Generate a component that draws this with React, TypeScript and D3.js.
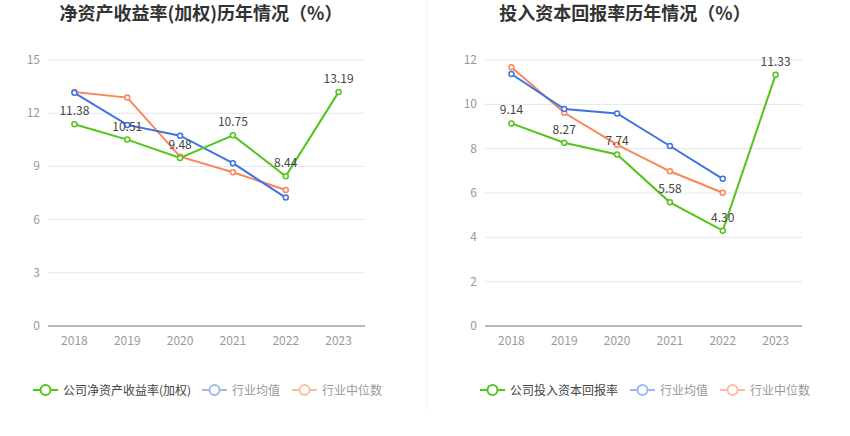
import React from "react";
import * as d3 from "d3";

const years = ["2018", "2019", "2020", "2021", "2022", "2023"];

const roeCompany = [11.38, 10.51, 9.48, 10.75, 8.44, 13.19];
const roeAvg = [13.15, 11.34, 10.73, 9.18, 7.24];
const roeMedian = [13.2, 12.88, 9.55, 8.67, 7.67];
const roeTicks = [0, 3, 6, 9, 12, 15];

const roicCompany = [9.14, 8.27, 7.74, 5.58, 4.30, 11.33];
const roicAvg = [11.37, 9.79, 9.59, 8.12, 6.64];
const roicMedian = [11.67, 9.62, 8.18, 6.98, 6.01];
const roicTicks = [0, 2, 4, 6, 8, 10, 12];

const GREEN = "#52c41a";
const BLUE = "#3d74e0";
const ORANGE = "#fa8758";
const FONT = "'Noto Sans CJK SC', 'Noto Sans', sans-serif";

type PanelProps = {
  x0: number;
  titleX: number;
  title: string;
  company: number[];
  avg: number[];
  median: number[];
  ticks: number[];
  yMax: number;
  legendName: string;
  legendX: number;
  legendFirstWidth: number;
};

function Panel({ x0, titleX, title, company, avg, median, ticks, yMax, legendName, legendX, legendFirstWidth }: PanelProps) {
  const left = x0;
  const right = x0 + 317;
  const top = 60;
  const bottom = 326;
  const x = d3.scaleBand<string>().domain(years).range([left, right]);
  const y = d3.scaleLinear().domain([0, yMax]).range([bottom, top]);
  const cx = (i: number) => (x(years[i]) as number) + x.bandwidth() / 2;
  const line = d3
    .line<number>()
    .x((_, i) => cx(i))
    .y((d) => y(d));

  const series = [
    { data: median, color: ORANGE },
    { data: avg, color: BLUE },
    { data: company, color: GREEN },
  ];

  const legendItems = [
    { name: legendName, color: GREEN, textColor: "#444", w: legendFirstWidth },
    { name: "行业均值", color: "#9db9f0", textColor: "#999", w: 48 },
    { name: "行业中位数", color: "#fcbca3", textColor: "#999", w: 60 },
  ];
  let lx = legendX;
  const legendEls = legendItems.map((it, k) => {
    const startX = lx;
    lx += 25 + 5 + it.w + 12;
    return (
      <g key={k}>
        <line x1={startX} x2={startX + 25} y1={390} y2={390} stroke={it.color} strokeWidth={2} />
        <circle cx={startX + 12.5} cy={390} r={5} fill="#fff" stroke={it.color} strokeWidth={2} />
        <text x={startX + 30} y={394.5} fontSize={12} fill={it.textColor} fontFamily={FONT}>
          {it.name}
        </text>
      </g>
    );
  });

  return (
    <g>
      <text x={titleX} y={20} textAnchor="middle" fontSize={18} fontWeight="bold" fill="#333" fontFamily={FONT}>
        {title}
      </text>
      {ticks.map((t) => (
        <g key={t}>
          {t !== 0 && <line x1={left} x2={right} y1={y(t)} y2={y(t)} stroke="#e0e6f1" strokeWidth={1} />}
          <text x={left - 8} y={y(t) + 4} textAnchor="end" fontSize={12} fill="#999" fontFamily={FONT}>
            {t}
          </text>
        </g>
      ))}
      <line x1={left} x2={right} y1={bottom} y2={bottom} stroke="#6e7079" strokeWidth={1} />
      {years.map((yr) => (
        <text
          key={yr}
          x={(x(yr) as number) + x.bandwidth() / 2}
          y={bottom + 19}
          textAnchor="middle"
          fontSize={12}
          fill="#999"
          fontFamily={FONT}
        >
          {yr}
        </text>
      ))}
      {series.map((s, k) => (
        <g key={k}>
          <path d={line(s.data) || ""} fill="none" stroke={s.color} strokeWidth={2} />
          {s.data.map((v, i) => (
            <circle key={i} cx={cx(i)} cy={y(v)} r={2.5} fill="#fff" stroke={s.color} strokeWidth={1.5} />
          ))}
        </g>
      ))}
      {company.map((v, i) => (
        <text key={i} x={cx(i)} y={y(v) - 9} textAnchor="middle" fontSize={12} fill="#444" fontFamily={FONT}>
          {v.toFixed(2)}
        </text>
      ))}
      {legendEls}
    </g>
  );
}

export default function App() {
  return (
    <svg width={850} height={436} style={{ display: "block", position: "absolute", left: 0, top: 0 }}>
      <rect width={850} height={436} fill="#fff" />
      <line x1={427} x2={427} y1={0} y2={410} stroke="#eee" strokeWidth={1} />
      <Panel
        x0={48}
        titleX={201}
        title="净资产收益率(加权)历年情况（%）"
        company={roeCompany}
        avg={roeAvg}
        median={roeMedian}
        ticks={roeTicks}
        yMax={15}
        legendName="公司净资产收益率(加权)"
        legendX={33}
        legendFirstWidth={127}
      />
      <Panel
        x0={485}
        titleX={625}
        title="投入资本回报率历年情况（%）"
        company={roicCompany}
        avg={roicAvg}
        median={roicMedian}
        ticks={roicTicks}
        yMax={12}
        legendName="公司投入资本回报率"
        legendX={480}
        legendFirstWidth={108}
      />
    </svg>
  );
}
